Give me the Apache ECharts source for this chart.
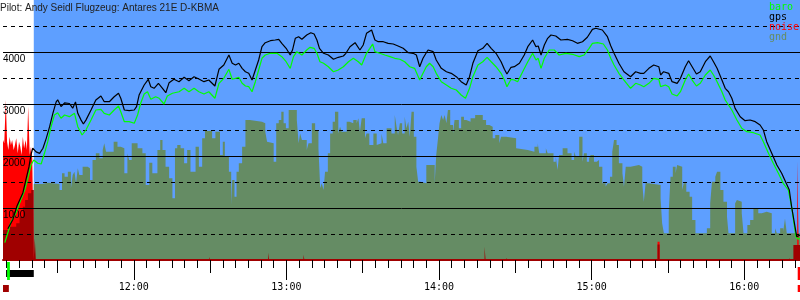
<!DOCTYPE html>
<html><head><meta charset="utf-8">
<script src="https://cdn.jsdelivr.net/npm/echarts@6/dist/echarts.min.js"></script>
<style>html,body{margin:0;padding:0;background:#fff}#c{width:800px;height:300px}</style>
</head><body><div id="c"></div>
<script>
// time in minutes since midnight, altitude in metres
const chartTitle = 'Pilot: Andy Seidl Flugzeug: Antares 21E D-KBMA';
const timeMin = 668.6, timeMax = 981.9;
const launchTime = 680.7;
const altMin = 0, altMax = 5000;
const hourTicks = [720, 780, 840, 900, 960];
const hourLabels = ['12:00', '13:00', '14:00', '15:00', '16:00'];
const legendNames = ['baro', 'gps', 'noise', 'gnd'];

const gps = [[670.5,600],[672.5,780],[674.1,1040],[676.4,1290],[677.6,1540],[678.8,1790],[679.6,2020],[680.3,2150],
[681.6,2080],[683.0,2050],[684.3,2150],[685.6,2340],[686.9,2560],[688.2,2820],[689.5,3040],[690.1,3080],[691.4,2950],
[692.8,3020],[694.7,3010],[696.0,2920],[697.1,3040],[698.0,2820],[699.3,2690],[700.2,2615],[701.2,2690],[703.2,2885],
[705.1,3077],[707.1,3154],[708.4,3044],[710.4,3044],[712.3,3140],[714.0,3206],[714.9,3110],[716.3,2885],[718.2,2871],
[720.2,2885],[721.1,2948],[722.1,3173],[724.1,3365],[725.7,3475],[726.7,3333],[728.0,3302],[729.7,3398],[731.3,3302],
[732.6,3217],[733.9,3410],[735.8,3475],[737.8,3429],[739.8,3513],[741.7,3448],[743.7,3525],[745.6,3481],[747.6,3429],
[749.5,3461],[751.9,3346],[753.5,3667],[755.4,3750],[757.4,3942],[758.0,3961],[758.7,3783],[760.0,3750],[761.3,3783],
[762.6,3686],[763.9,3621],[765.2,3590],[766.5,3461],[767.8,3654],[769.1,3846],[770.4,4102],[771.7,4179],[773.7,4217],
[775.6,4231],[777.0,4244],[778.2,4167],[779.9,4071],[781.5,3942],[782.4,4038],[783.5,4263],[784.8,4294],[786.1,4244],
[788.0,4327],[789.6,4371],[790.9,4346],[792.0,4231],[793.0,4071],[794.6,3975],[796.5,3942],[798.5,3860],[800.4,3898],
[802.4,3923],[803.4,3975],[805.0,4102],[807.0,4179],[808.9,4038],[810.2,4134],[811.5,4359],[813.5,4423],[814.8,4231],
[816.1,4198],[818.1,4198],[820.0,4167],[822.0,4154],[823.9,4115],[825.9,4071],[827.9,3986],[829.8,3975],[831.1,3942],
[832.4,3717],[833.7,3879],[835.0,3986],[835.7,4038],[837.7,4006],[838.9,3846],[840.9,3686],[842.9,3621],[844.8,3590],
[846.8,3525],[848.7,3429],[850.7,3365],[852.0,3525],[853.3,3783],[855.3,4025],[857.2,4071],[858.9,4167],[860.5,4071],
[862.4,3975],[864.4,3813],[865.7,3667],[866.7,3577],[868.3,3706],[869.6,3717],[871.6,3783],[873.5,3942],[874.9,4102],
[876.8,4231],[878.1,4102],[879.0,4115],[880.1,3942],[881.4,4134],[882.7,4263],[884.0,4327],[885.9,4308],[887.9,4231],
[890.5,4244],[892.5,4217],[894.4,4167],[896.4,4198],[898.3,4283],[900.3,4436],[901.6,4456],[904.2,4423],[906.2,4294],
[907.5,4120],[908.8,3975],[910.7,3783],[912.7,3621],[915.3,3525],[917.3,3621],[919.2,3590],[920.5,3590],[922.5,3686],
[924.4,3750],[926.4,3717],[927.1,3558],[928.3,3621],[930.3,3590],[931.6,3429],[933.6,3398],[934.9,3494],[936.8,3717],
[938.1,3833],[939.5,3717],[941.2,3577],[942.7,3621],[944.7,3813],[946.6,3923],[947.9,3813],[949.3,3686],[951.2,3461],
[952.5,3302],[953.8,3236],[955.1,3110],[956.4,2917],[958.4,2756],[960.3,2679],[962.3,2692],[964.3,2660],[966.2,2596],
[967.5,2500],[968.8,2275],[970.8,2052],[972.8,1827],[974.7,1667],[976.4,1486],[977.7,1346],[978.6,1025],[979.5,769],
[980.6,448],[981.2,450],[981.9,480]];

const baro = [[669.3,333],[670.6,538],[671.7,731],[673.7,904],[675.6,1154],[677.2,1346],[678.4,1577],[679.6,1827],[680.7,1923],
[682.3,1860],[683.6,1846],[684.9,2052],[686.2,2275],[687.5,2563],[688.8,2788],[690.1,2833],[691.4,2725],[692.8,2788],
[694.7,2756],[696.7,2821],[698.0,2563],[699.7,2404],[701.2,2500],[703.2,2692],[705.1,2885],[707.1,2898],[708.4,2821],
[710.4,2788],[712.3,2885],[714.0,2961],[714.9,2852],[716.3,2660],[718.2,2660],[720.2,2629],[721.5,2788],[722.8,3025],
[724.1,3192],[725.4,3236],[726.7,3090],[728.6,3140],[730.0,3110],[731.9,3000],[733.2,3154],[735.2,3206],[737.8,3236],
[739.8,3302],[741.7,3236],[743.7,3302],[745.6,3236],[747.6,3192],[749.5,3236],[751.9,3110],[753.5,3398],[755.4,3494],
[757.4,3667],[758.0,3686],[758.7,3475],[759.3,3461],[761.3,3513],[762.6,3398],[763.9,3346],[765.2,3333],[766.5,3236],
[767.8,3429],[769.1,3654],[770.4,3879],[771.7,3942],[773.7,3975],[776.3,3975],[778.2,3910],[779.9,3813],[781.5,3686],
[782.8,3910],[784.1,4006],[786.1,3942],[788.0,4038],[789.3,4090],[790.9,4071],[792.0,3975],[793.2,3813],[794.6,3783],
[796.5,3717],[798.5,3621],[800.4,3654],[802.4,3717],[804.4,3813],[806.3,3879],[808.3,3813],[809.6,3750],[811.5,3975],
[812.8,4071],[813.9,4154],[814.8,4006],[816.7,3975],[818.7,3942],[820.7,3910],[822.6,3879],[824.6,3860],[826.5,3813],
[828.5,3717],[830.4,3686],[832.4,3461],[833.7,3590],[835.0,3717],[836.3,3783],[837.7,3717],[838.9,3590],[840.9,3429],
[842.9,3365],[844.8,3302],[846.8,3269],[848.7,3173],[850.4,3110],[852.0,3302],[853.3,3525],[855.3,3750],[857.2,3813],
[858.9,3898],[860.5,3813],[862.4,3717],[864.4,3590],[865.7,3461],[866.7,3333],[868.3,3475],[869.6,3461],[870.9,3429],
[872.9,3621],[874.9,3813],[876.8,3975],[878.1,3846],[879.0,3879],[880.1,3686],[881.4,3879],[883.3,4038],[885.3,4038],
[887.2,3942],[889.9,3975],[892.5,3956],[895.1,3910],[897.0,3942],[899.0,4071],[900.3,4167],[902.3,4179],[904.6,4154],
[906.2,4038],[907.5,3879],[908.8,3750],[910.7,3590],[912.7,3461],[915.3,3302],[917.3,3398],[919.2,3365],[920.5,3333],
[922.5,3398],[924.4,3494],[926.4,3475],[927.1,3333],[929.0,3365],[930.3,3333],[931.6,3192],[933.6,3154],[934.9,3236],
[936.8,3461],[938.1,3577],[939.5,3461],[941.2,3346],[942.7,3398],[944.7,3558],[946.6,3654],[947.9,3558],[949.3,3429],
[951.2,3236],[952.5,3077],[953.8,2981],[955.1,2885],[957.1,2692],[959.0,2533],[961.0,2467],[963.6,2448],[966.2,2404],
[967.5,2275],[969.5,2052],[971.4,1860],[973.4,1667],[975.3,1475],[977.3,1346],[978.6,1025],[979.5,711],[980.3,448],
[981.2,400],[981.9,420]];

const gnd = [[680.7,1460],[684.0,1487],[686.5,1460],[690.8,1346],[691.8,1667],[692.8,1602],[694.1,1698],[695.3,1379],[696.0,1635],
[696.7,1698],[697.3,1475],[698.0,1763],[698.6,1635],[699.9,1794],[701.9,1763],[702.8,1538],[703.8,1923],[705.1,2052],
[706.5,1955],[707.8,2115],[708.4,2244],[709.1,2083],[712.1,2275],[713.6,2179],[714.9,2148],[716.3,1667],[717.5,2052],
[718.2,1923],[719.2,2244],[721.5,2148],[723.4,2052],[724.7,1442],[726.1,1871],[727.3,1667],[729.3,2115],[730.4,2308],
[731.3,2115],[732.5,1794],[733.9,1571],[735.2,1186],[736.2,2148],[737.1,2212],[738.4,2148],[739.8,1860],[741.0,2115],
[742.3,1698],[744.3,2179],[745.6,1794],[746.9,2340],[748.0,2481],[750.8,2340],[752.1,2467],[753.9,2019],[755.0,2275],
[755.8,1987],[757.4,1698],[758.3,1058],[758.7,1538],[759.6,1218],[760.4,1698],[761.3,1860],[762.6,2179],[763.9,2692],
[765.6,2660],[770.4,2629],[771.7,2467],[772.4,2275],[773.0,2244],[775.0,1891],[776.0,2629],[777.0,2692],[778.0,2852],
[778.9,2629],[779.8,2532],[780.9,2885],[784.1,2692],[784.8,2244],[785.4,2435],[786.1,2308],[788.0,2115],[788.7,2244],
[790.0,2629],[791.3,2500],[792.6,2148],[793.3,1379],[793.9,1475],[794.6,1346],[795.2,1698],[796.3,2052],[797.2,2435],
[798.2,2660],[799.1,2852],[800.4,2435],[801.1,2563],[801.7,2467],[803.7,2660],[804.8,2629],[806.3,2692],[807.6,2629],
[808.3,2725],[808.9,2467],[809.6,2725],[810.9,2340],[811.5,2435],[812.6,2212],[814.2,2435],[815.5,2212],[816.1,2244],
[817.4,2435],[818.1,2244],[819.4,2532],[821.3,2435],[822.6,2788],[823.3,2563],[823.9,2404],[824.6,2629],[825.5,2435],
[826.5,2756],[827.2,2532],[827.9,2660],[828.5,2371],[829.2,2852],[830.1,2371],[831.1,1794],[831.8,1506],[832.7,1475],
[835.0,1827],[838.3,1475],[838.9,2019],[839.6,2340],[840.2,2629],[840.9,2788],[841.6,2692],[842.2,2788],[842.9,2629],
[843.5,2885],[844.4,2596],[845.5,2435],[846.1,2692],[847.8,2532],[848.7,2756],[849.8,2692],[850.7,2660],[852.4,2725],
[854.2,2788],[857.2,2692],[858.5,2596],[859.8,2563],[861.1,2340],[862.1,2404],[863.7,2244],[864.4,2371],[866.4,2340],
[870.3,2148],[871.0,2115],[874.9,2083],[877.5,2179],[878.8,2244],[879.4,2052],[882.0,2148],[882.7,2052],[885.0,1891],
[885.9,1987],[886.6,1731],[887.2,2019],[888.6,2148],[890.5,2052],[892.1,1923],[893.1,2083],[893.8,1987],[895.1,2371],
[896.4,1891],[897.0,2052],[898.1,1891],[899.0,1955],[899.6,2019],[900.9,1891],[902.0,1923],[902.9,1794],[904.2,1475],
[905.5,1410],[906.2,1475],[907.2,1602],[908.1,2083],[908.8,2308],[909.8,2212],[910.7,1860],[912.1,1667],[912.7,1410],
[913.4,1794],[915.3,1827],[918.6,1794],[919.9,1475],[920.5,1122],[921.2,1475],[922.5,1442],[927.1,1186],[927.7,705],
[928.4,513],[930.3,929],[931.0,1602],[931.9,1794],[933.0,1667],[933.6,1827],[934.2,1794],[935.6,1346],[936.2,1475],
[937.2,1314],[938.5,1218],[939.5,769],[940.8,513],[945.3,609],[946.6,1090],[947.3,1506],[948.6,1602],[949.3,1698],
[950.6,1346],[951.8,1122],[953.2,833],[953.8,513],[956.4,1090],[957.1,1154],[957.7,1122],[959.0,898],[959.7,513],
[961.2,673],[962.3,769],[963.6,993],[965.5,898],[966.9,930],[968.8,898],[970.8,513],[972.1,609],[972.8,513],[974.1,609],
[975.3,545],[976.0,800],[976.7,513],[981.9,513]];

const noise = [[668.6,2308],[669.1,2244],[669.7,3077],[670.2,2275],[670.7,2115],[671.2,2371],[671.7,2212],[672.2,2308],
[672.8,2115],[673.3,2212],[673.8,2340],[674.4,2052],[674.9,2275],[675.4,2179],[675.9,2019],[676.4,2371],[676.9,2148],
[677.5,2308],[678.0,2115],[678.5,2950],[679.1,2019],[679.6,2179],[680.1,1955],[680.7,0],
[925.9,350],[926.7,0],[980.8,1900],[981.5,0]];

const noiseAvg = [[668.6,577],[671.2,641],[673.8,705],[675.1,833],[676.4,1025],[677.3,1154],[678.4,1282],[679.7,1346],[680.7,0],
[681.1,420],[681.5,0],[749.7,60],[750.1,0],[772.8,140],[773.2,0],[786.7,100],[787.1,0],[848.7,30],[849.1,0],
[857.9,256],[858.3,0],[866.5,45],[866.9,0],[925.9,300],[926.7,0],[977.7,40],[978.1,0],[979.3,290],[981.9,290]];

// status strips below the time axis: [start, end]
const stripEngine = [[669.8, 680.7]];
const stripBaro = [[670.2, 671.3]];
const stripNoiseStart = [[668.6, 670.9]];
const stripNoiseEnd = [[981.0, 981.9]];

const C = { sky:'#5e9fff', gnd:'#658c64', baro:'#00ff00', gps:'#000000', noise:'#ff0000', noiseAvg:'#a00000' };

const fiveMin = [], halfHour = [];
for (let t = 670; t <= 980; t += 5) fiveMin.push(t);
for (let t = 690; t <= 980; t += 60) halfHour.push(t);

function strip(name, data, color, y1, y2) {
  return { type:'custom', name, data, z:8, clip:false, silent:true,
    encode:{ x:[0,1] },
    renderItem(params, api) {
      const a = api.coord([api.value(0), 0]);
      const b = api.coord([api.value(1), 0]);
      return { type:'rect', shape:{ x:a[0], y:a[1]+y1, width:Math.max(1,b[0]-a[0]), height:y2-y1 }, style:{ fill:color } };
    } };
}

const chart = echarts.init(document.getElementById('c'), null, { renderer:'canvas' });
const xBase = { type:'value', min:timeMin, max:timeMax, gridIndex:0, position:'bottom',
  splitLine:{show:false}, axisLabel:{show:false}, axisLine:{show:false} };
chart.setOption({
  animation:false,
  backgroundColor:'#ffffff',
  title:{ text:chartTitle, left:0, top:3, padding:0, z:10,
    textStyle:{ fontFamily:'Liberation Sans', fontSize:10, fontWeight:'normal', color:'#222' } },
  legend:{ data: legendNames.map(n => ({ name:n, textStyle:{ color:C[n] } })),
    orient:'vertical', left:764, top:2, padding:0, itemWidth:0, itemHeight:0, itemGap:0, icon:'rect',
    selectedMode:false, textStyle:{ fontFamily:'DejaVu Sans Mono', fontSize:10, lineHeight:10 } },
  grid:{ left:0, right:0, top:0, bottom:40, containLabel:false },
  xAxis:[
    Object.assign({}, xBase, { z:7, axisLine:{show:true, lineStyle:{color:C.noiseAvg, width:2}},
      axisTick:{ show:true, customValues:fiveMin, length:8, lineStyle:{color:'#000'} } }),
    Object.assign({}, xBase, { z:7, axisTick:{ show:true, customValues:halfHour, length:13, lineStyle:{color:'#000'} } }),
    Object.assign({}, xBase, { z:7, axisTick:{ show:true, customValues:hourTicks, length:20, lineStyle:{color:'#000'} },
      axisLabel:{ show:true, customValues:hourTicks, margin:22, color:'#000', fontFamily:'DejaVu Sans Mono', fontSize:10,
        formatter: v => hourLabels[hourTicks.indexOf(v)] } })
  ],
  yAxis:[
    { type:'value', min:altMin, max:altMax, interval:1000, z:5,
      axisLine:{show:false}, axisTick:{show:false},
      splitLine:{ show:true, showMinLine:false, showMaxLine:false, lineStyle:{ color:'#000', width:1, type:'solid' } },
      axisLabel:{ inside:true, margin:0, align:'left', verticalAlign:'top', padding:[2,0,0,0], showMinLabel:false, showMaxLabel:false,
        color:'#000', fontFamily:'Liberation Sans', fontSize:10, formatter: v => String(v) } },
    { type:'value', min:altMin, max:altMax, interval:500, z:4,
      axisLine:{show:false}, axisTick:{show:false}, axisLabel:{show:false},
      splitLine:{ show:true, showMinLine:false, showMaxLine:false, lineStyle:{ color:'#000', width:1, type:[4,4] } } }
  ],
  series:[
    { type:'line', name:'sky', z:0, silent:true, data:[[launchTime,0]], symbol:'none', lineStyle:{opacity:0},
      markArea:{ silent:true, itemStyle:{ color:C.sky, opacity:1 },
        data:[[{ coord:[launchTime, altMin] }, { coord:[timeMax, altMax] }]] } },
    { type:'line', name:'gnd', z:1, step:'end', data:gnd, symbol:'none', silent:true,
      lineStyle:{ width:0, color:C.gnd }, itemStyle:{color:C.gnd}, areaStyle:{ color:C.gnd, opacity:1 } },
    { type:'line', name:'noise', z:2, step:'end', data:noise, symbol:'none', silent:true,
      lineStyle:{ width:0, color:C.noise }, itemStyle:{color:C.noise}, areaStyle:{ color:C.noise, opacity:1 } },
    { type:'line', name:'noiseAvg', z:3, step:'end', data:noiseAvg, symbol:'none', silent:true,
      lineStyle:{ width:0, color:C.noiseAvg }, itemStyle:{color:C.noiseAvg}, areaStyle:{ color:C.noiseAvg, opacity:1 } },
    { type:'line', name:'baro', z:9, data:baro, symbol:'none', silent:true, lineStyle:{ width:1.2, color:C.baro }, itemStyle:{color:C.baro} },
    { type:'line', name:'gps', z:10, data:gps, symbol:'none', silent:true, lineStyle:{ width:1.2, color:C.gps }, itemStyle:{color:C.gps} },
    strip('engine', stripEngine, '#000000', 10, 17),
    strip('baroStrip', stripBaro, C.baro, 2, 20),
    strip('noiseStart', stripNoiseStart, C.noiseAvg, 25, 32),
    strip('noiseEnd1', stripNoiseEnd, C.noise, 7, 20),
    strip('noiseEnd2', stripNoiseEnd, C.noise, 25, 32)
  ]
});
</script></body></html>
